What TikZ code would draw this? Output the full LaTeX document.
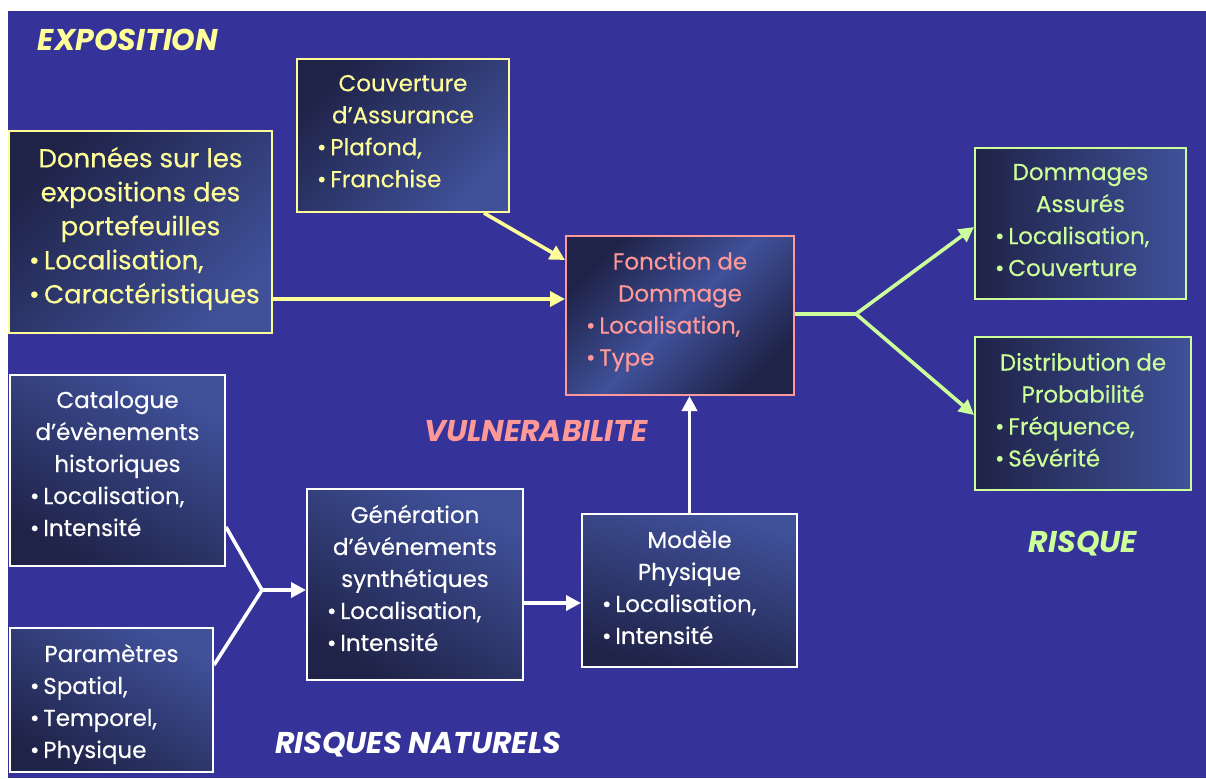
\documentclass[tikz,border=0pt]{standalone}
\usepackage{fontspec}
\setmainfont{Poppins}
\newfontfamily\boitefont{Poppins}[FakeBold=0.35]
\usetikzlibrary{arrows.meta,calc,positioning}

\definecolor{fond}{HTML}{35339A}
\definecolor{sombre}{HTML}{1F2348}
\definecolor{clair}{HTML}{40519A}
\definecolor{jaune}{HTML}{FFFF99}
\definecolor{rose}{HTML}{FF9999}
\definecolor{vert}{HTML}{CCFF99}

% contenu d'une boite : largeur, hauteur, titre, puces
\newcommand{\contenu}[4]{\parbox[c][#2][t]{#1}{\vspace*{8pt}{\centering #3\par}{\raggedright\leftskip=10pt\relax #4\par}}}

\tikzset{
  cadre/.style={draw=#1, line width=1pt, inner sep=0pt, text=#1,
    font=\boitefont\fontsize{11.5}{16}\selectfont},
  fleche/.style={draw=#1, line width=1.8pt, -{Triangle[length=7.5pt,width=7.5pt]}},
  trait/.style={draw=#1, line width=1.8pt},
  titre/.style={text=#1, font=\fontsize{15}{15}\selectfont\bfseries\itshape}
}

\begin{document}
\begin{tikzpicture}[x=0.5pt,y=-0.5pt]
  \useasboundingbox (0,0) rectangle (1206,778);
  \fill[white] (0,0) rectangle (1206,778);
  \fill[fond] (8,11) rectangle (1206,778);

  %%%% Exposition =====================================
  \node[cadre=jaune, top color=sombre, bottom color=clair, shading angle=45,
    font=\boitefont\fontsize{13}{17}\selectfont] (don) at (140.5,232)
    {\contenu{131.5pt}{101pt}{Données sur les\\expositions des\\portefeuilles}
      {\textbullet\,Localisation,\\\textbullet\,Caractéristiques}};
  \node[cadre=jaune, top color=sombre, bottom color=clair, shading angle=45] (couv) at (403,135.5)
    {\contenu{106pt}{76.5pt}{Couverture\\d’Assurance}{\textbullet\,Plafond,\\\textbullet\,Franchise}};

  %%%% Vulnerabilite ==================================
  \node[cadre=rose, top color=sombre, bottom color=sombre, middle color=clair, shading angle=45] (fonc) at (680,315.5)
    {\contenu{114pt}{79.5pt}{Fonction de\\Dommage}{\textbullet\,Localisation,\\\textbullet\,Type}};

  %%%% Risque =========================================
  \node[cadre=vert, left color=sombre, right color=clair] (domm) at (1080.5,223.5)
    {\contenu{105.5pt}{75.5pt}{Dommages\\Assurés}{\textbullet\,Localisation,\\\textbullet\,Couverture}};
  \node[cadre=vert, left color=sombre, right color=clair] (dist) at (1083,413.5)
    {\contenu{108pt}{76.5pt}{Distribution de\\Probabilité}{\textbullet\,Fréquence,\\\textbullet\,Sévérité}};

  %%%% Risques naturels ===============================
  \node[cadre=white, top color=clair, bottom color=sombre, shading angle=-30] (cata) at (117.5,470.5)
    {\contenu{107.5pt}{95.5pt}{Catalogue\\d’évènements\\historiques}{\textbullet\,Localisation,\\\textbullet\,Intensité}};
  \node[cadre=white, top color=clair, bottom color=sombre, shading angle=-30] (para) at (111.5,700)
    {\contenu{101.5pt}{72pt}{Paramètres}{\textbullet\,Spatial,\\\textbullet\,Temporel,\\\textbullet\,Physique}};
  \node[cadre=white, top color=clair, bottom color=sombre, shading angle=-30] (gene) at (415,584.5)
    {\contenu{108pt}{95.5pt}{Génération\\d’événements\\synthétiques}{\textbullet\,Localisation,\\\textbullet\,Intensité}};
  \node[cadre=white, top color=clair, bottom color=sombre, shading angle=-15] (mode) at (689.5,590.5)
    {\contenu{107.5pt}{76.5pt}{Modèle\\Physique}{\textbullet\,Localisation,\\\textbullet\,Intensité}};

  % Titres
  \node[titre=jaune] (expo) at (128,40) {EXPOSITION};
  \node[titre=rose] (vuln) at (536,431) {VULNERABILITE};
  \node[titre=vert] (risq) at (1083,544) {RISQUE};
  \node[titre=white] (natu) at (418,745) {RISQUES NATURELS};

  % Jonctions
  \coordinate (jonc1) at (262,590);
  \coordinate (jonc2) at (856,314);

  % Arcs
  \draw[fleche=jaune] (couv.south -| 484,0) -- (fonc.west |- 0,260);
  \draw[fleche=jaune] (don.east |- 0,299) -- (fonc.west |- 0,299);
  \draw[trait=vert] (fonc.east |- jonc2) -- (jonc2);
  \draw[fleche=vert] (jonc2) -- (domm.west |- 0,227);
  \draw[fleche=vert] (jonc2) -- (dist.west |- 0,415);
  \draw[trait=white] (cata.east |- 0,527) -- (jonc1);
  \draw[trait=white] (para.east |- 0,665) -- (jonc1);
  \draw[fleche=white] (jonc1) -- (gene.west |- jonc1);
  \draw[fleche=white] (gene.east |- 0,603) -- (mode.west |- 0,603);
  \draw[fleche=white] (mode.north) -- (fonc.south -| mode.north);
\end{tikzpicture}
\end{document}
